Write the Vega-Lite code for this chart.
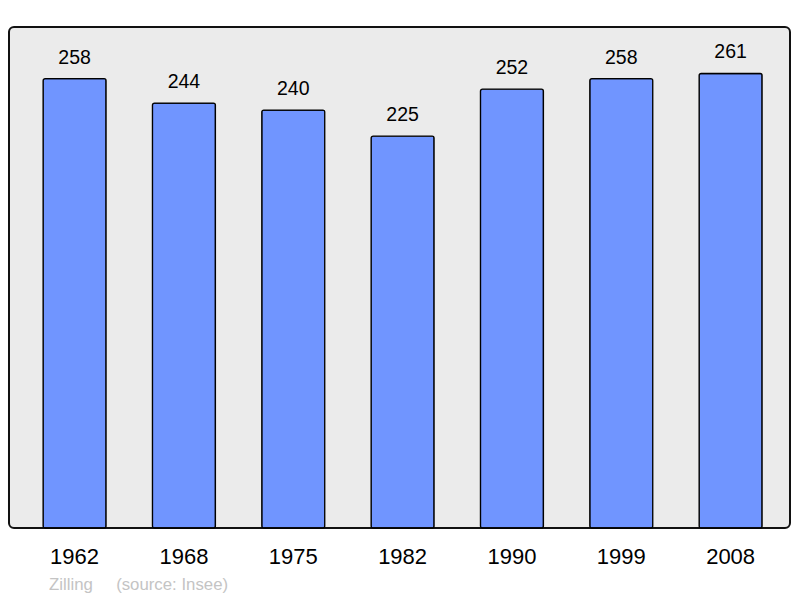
{
  "$schema": "https://vega.github.io/schema/vega-lite/v6.json",
  "autosize": "none",
  "width": 781,
  "height": 501,
  "padding": {"left": 9, "top": 27, "right": 10, "bottom": 70},
  "background": "white",
  "config": {
    "view": {"fill": "#ebebeb", "stroke": "#111111", "strokeWidth": 2, "cornerRadius": 5},
    "font": "Liberation Sans"
  },
  "title": {
    "text": "Zilling\u00a0\u00a0\u00a0\u00a0\u00a0(source: Insee)",
    "orient": "bottom",
    "anchor": "start",
    "frame": "group",
    "dx": 40,
    "offset": 10,
    "fontSize": 16.8,
    "fontWeight": "normal",
    "color": "#c4c4c4",
    "font": "Liberation Sans"
  },
  "data": {
    "values": [
      {"year": "1962", "pop": 258},
      {"year": "1968", "pop": 244},
      {"year": "1975", "pop": 240},
      {"year": "1982", "pop": 225},
      {"year": "1990", "pop": 252},
      {"year": "1999", "pop": 258},
      {"year": "2008", "pop": 261}
    ]
  },
  "encoding": {
    "x": {
      "field": "year",
      "type": "ordinal",
      "scale": {"paddingInner": 0.424, "paddingOuter": 0.2835, "align": 0.55},
      "axis": {
        "title": null,
        "ticks": false,
        "domain": false,
        "labelAngle": 0,
        "labelFontSize": 22,
        "labelColor": "#000000",
        "labelBaseline": "alphabetic",
        "labelPadding": 35,
        "labelFont": "Liberation Sans"
      }
    },
    "y": {
      "field": "pop",
      "type": "quantitative",
      "scale": {"domain": [0, 287.7], "nice": false, "zero": true},
      "axis": null
    }
  },
  "layer": [
    {
      "mark": {"type": "bar", "fill": "#7095ff", "stroke": "#000000", "strokeWidth": 1.3, "cornerRadius": 2}
    },
    {
      "mark": {"type": "text", "baseline": "alphabetic", "dy": -15, "fontSize": 19.5, "color": "#000000", "font": "Liberation Sans"},
      "encoding": {"text": {"field": "pop", "type": "quantitative"}}
    }
  ]
}
